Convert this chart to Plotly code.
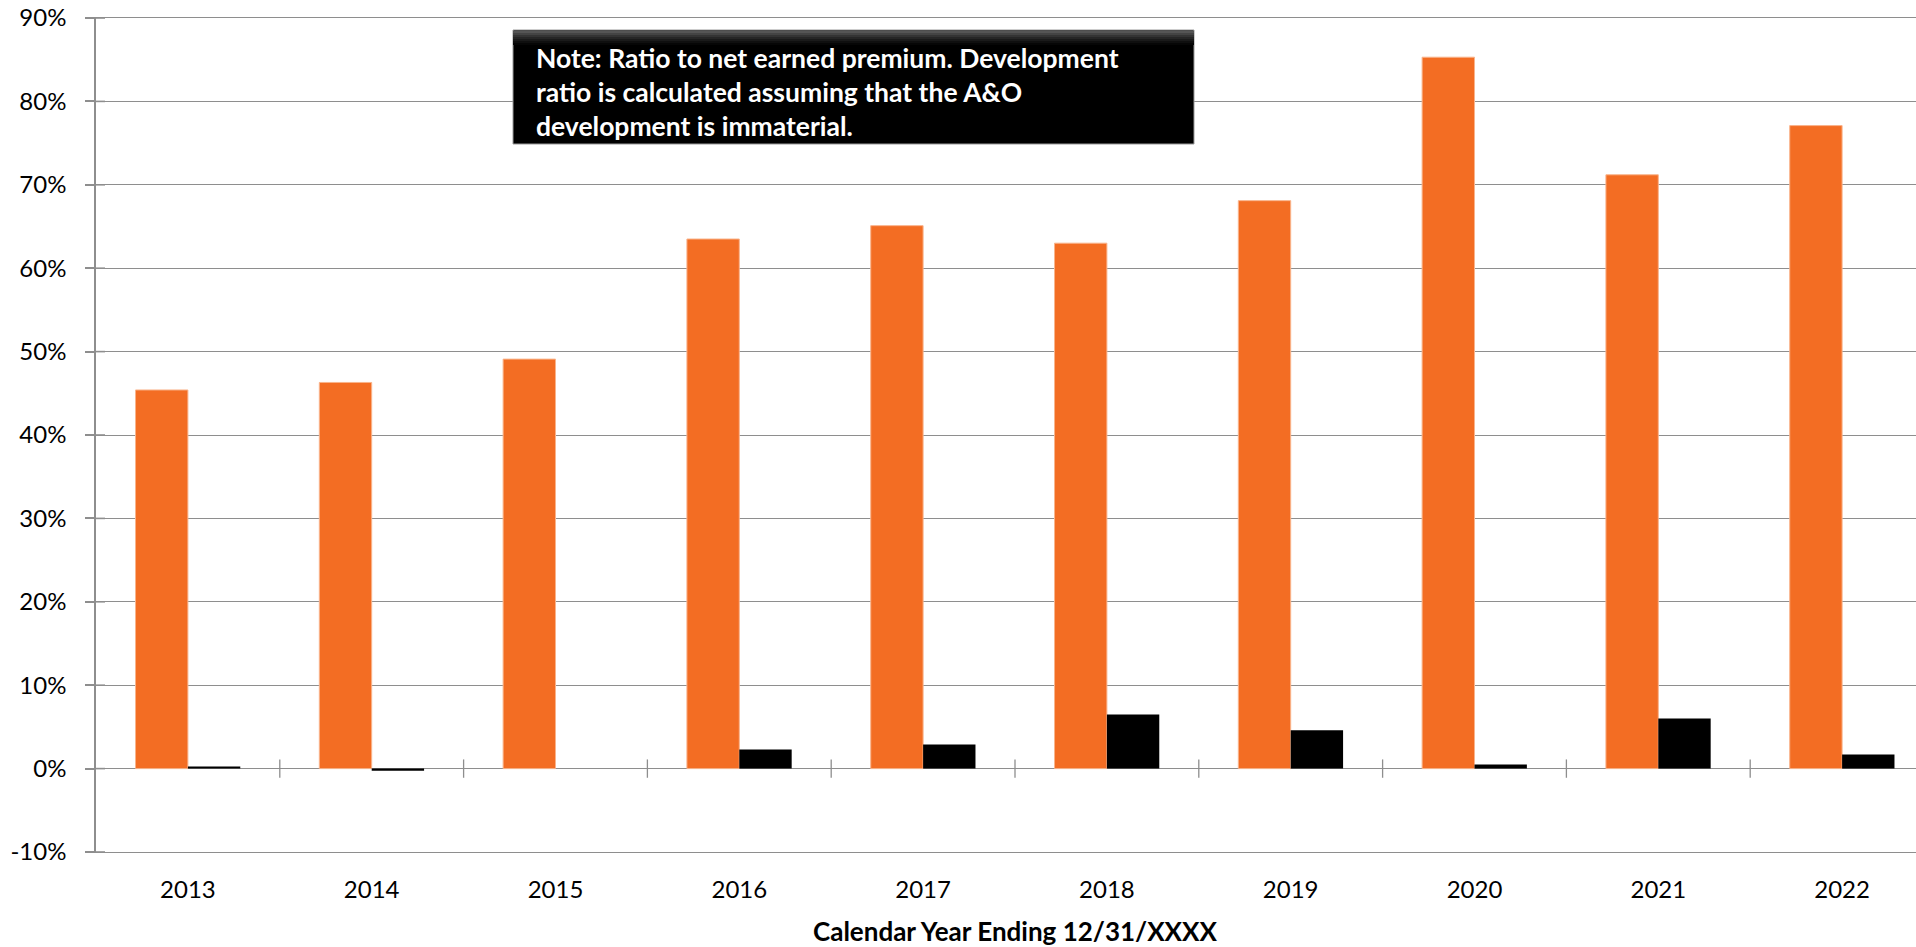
import plotly.graph_objects as go

# Calendar years and ratios (percent of net earned premium)
years = ["2013", "2014", "2015", "2016", "2017", "2018", "2019", "2020", "2021", "2022"]
loss_ratio = [45.4, 46.3, 49.1, 63.5, 65.1, 63.0, 68.1, 85.3, 71.2, 77.1]
development_ratio = [0.25, -0.25, 0.0, 2.3, 2.9, 6.5, 4.6, 0.5, 6.0, 1.7]

y_tick_values = [-10, 0, 10, 20, 30, 40, 50, 60, 70, 80, 90]
y_tick_labels = ["-10%", "0%", "10%", "20%", "30%", "40%", "50%", "60%", "70%", "80%", "90%"]

note_lines = [
    "Note: Ratio to net earned premium. Development",
    "ratio is calculated assuming that the A&O",
    "development is immaterial.",
]
x_title = "Calendar Year Ending 12/31/XXXX"

W, H = 1916, 947
ML, MT, MB = 96, 18, 95
PLOT_W = W - ML
PLOT_H = H - MT - MB
CAT_W = 183.8  # pixel width of one category

ORANGE = "#F36D23"
GRID = "#8E8E8E"
FONT = "Lato"


def px_to_paper_y(py):
    return 1 - (py - MT) / PLOT_H


def px_to_paper_x(px):
    return (px - ML) / PLOT_W


fig = go.Figure()
fig.add_trace(go.Bar(
    x=years, y=loss_ratio, name="Loss ratio",
    marker=dict(color=ORANGE, line=dict(color="#F9B48C", width=1)),
))
fig.add_trace(go.Bar(
    x=years, y=development_ratio, name="Development ratio",
    marker=dict(color="#000000", line=dict(width=0)),
))

shapes = []
# cross ticks on the zero line at category boundaries
for i in range(len(years) - 1):
    shapes.append(dict(type="line", xref="x", yref="y", x0=i + 0.5, x1=i + 0.5,
                       y0=-1.1, y1=1.1, line=dict(color=GRID, width=1.3), layer="above"))
# inner half of the y-axis ticks
for v in y_tick_values:
    shapes.append(dict(type="line", xref="paper", yref="y", x0=0, x1=9 / PLOT_W,
                       y0=v, y1=v, line=dict(color=GRID, width=1.6), layer="above"))

# note box with a soft dark top edge
bx0, bx1 = px_to_paper_x(513), px_to_paper_x(1194)
by_top, by_bot = 30, 144
shapes.append(dict(type="rect", xref="paper", yref="paper", x0=bx0, x1=bx1,
                   y0=px_to_paper_y(by_bot), y1=px_to_paper_y(by_top),
                   fillcolor="#000000", line=dict(color="#9A9A9A", width=1), layer="above"))
band_colors = ["#555555", "#444444", "#343434", "#262626", "#1A1A1A", "#0F0F0F", "#060606"]
for k, c in enumerate(band_colors):
    shapes.append(dict(type="rect", xref="paper", yref="paper", x0=bx0, x1=bx1,
                       y0=px_to_paper_y(by_top + 1 + 2 * (k + 1)),
                       y1=px_to_paper_y(by_top + 1 + 2 * k),
                       fillcolor=c, line=dict(width=0), layer="above"))

annotations = []
for line, py in zip(note_lines, [57.5, 92, 126]):
    annotations.append(dict(
        text=line, xref="paper", yref="paper", x=px_to_paper_x(534), y=px_to_paper_y(py),
        xanchor="left", yanchor="middle", showarrow=False, align="left",
        font=dict(family=FONT, size=26.5, color="#FFFFFF", weight="bold"),
    ))
annotations.append(dict(
    text=x_title, xref="x", yref="paper", x=(len(years) - 1) / 2, y=px_to_paper_y(931),
    xanchor="center", yanchor="middle", showarrow=False,
    font=dict(family=FONT, size=26, color="#000000", weight="bold"),
))

fig.update_layout(
    width=W, height=H,
    margin=dict(l=ML, r=0, t=MT, b=MB, pad=0),
    paper_bgcolor="#FFFFFF", plot_bgcolor="#FFFFFF",
    barmode="group", bargap=0.43, bargroupgap=0,
    showlegend=False,
    font=dict(family=FONT, size=24, color="#000000"),
    shapes=shapes, annotations=annotations,
)
fig.update_xaxes(
    range=[-0.5, -0.5 + PLOT_W / CAT_W],
    showgrid=False, ticks="", showline=True, mirror=True,
    linecolor=GRID, linewidth=1.3,
    tickfont=dict(family=FONT, size=24, color="#000000"),
    ticklabelstandoff=16,
)
fig.update_yaxes(
    range=[-10, 90], tickvals=y_tick_values, ticktext=y_tick_labels,
    showgrid=True, gridcolor=GRID, gridwidth=1.3,
    zeroline=True, zerolinecolor=GRID, zerolinewidth=1.3,
    showline=True, linecolor=GRID, linewidth=1.6,
    ticks="outside", ticklen=9, tickcolor=GRID, tickwidth=1.6,
    tickfont=dict(family=FONT, size=24, color="#000000"),
    ticklabelstandoff=14,
)

fig.write_html("out.html")
